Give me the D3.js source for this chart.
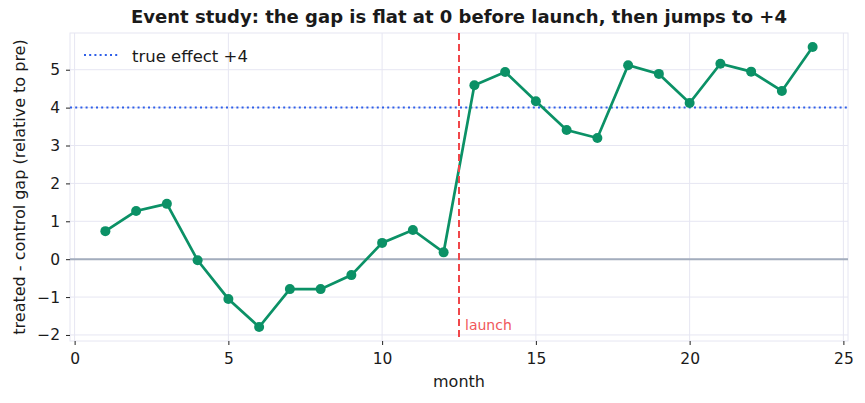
<html>
<head>
<meta charset="utf-8">
<script src="https://cdn.jsdelivr.net/npm/d3@7"></script>
<style>
  body { margin: 0; background: #fff; }
  svg text { font-family: "DejaVu Sans", sans-serif; fill: #1a1a1a; }
  .title { font-size: 18px; font-weight: bold; }
</style>
</head>
<body>
<script>
// data
var months = [1, 2, 3, 4, 5, 6, 7, 8, 9, 10, 11, 12, 13, 14, 15, 16, 17, 18, 19, 20, 21, 22, 23, 24];
var gap = [0.74, 1.27, 1.46, -0.03, -1.05, -1.79, -0.79, -0.79, -0.42, 0.43, 0.77, 0.18,
           4.59, 4.94, 4.17, 3.41, 3.20, 5.12, 4.89, 4.12, 5.16, 4.95, 4.44, 5.60];
var xTicks = [0, 5, 10, 15, 20, 25];
var yTicks = [-2, -1, 0, 1, 2, 3, 4, 5];
var launchMonth = 12.5;
var trueEffect = 4;

var W = 865, H = 403;
var m = {top: 33, right: 17, bottom: 62, left: 70};
var iw = W - m.left - m.right, ih = H - m.top - m.bottom;

var svg = d3.select("body").append("svg").attr("width", W).attr("height", H);
var g = svg.append("g").attr("transform", "translate(" + m.left + "," + m.top + ")");

// matplotlib-like 5% margins
var xr = d3.extent(months), yr = d3.extent(gap);
var xp = (xr[1] - xr[0]) * 0.05, yp = (yr[1] - yr[0]) * 0.05;
var x = d3.scaleLinear().domain([xr[0] - xp, xr[1] + xp]).range([0, iw]);
var y = d3.scaleLinear().domain([yr[0] - yp, yr[1] + yp]).range([ih, 0]);

/* grid */
g.selectAll(".gx").data(xTicks).enter().append("line")
  .attr("x1", d => x(d)).attr("x2", d => x(d)).attr("y1", 0).attr("y2", ih)
  .attr("stroke", "#e6e6f2").attr("stroke-width", 1);
g.selectAll(".gy").data(yTicks).enter().append("line")
  .attr("x1", 0).attr("x2", iw).attr("y1", d => y(d)).attr("y2", d => y(d))
  .attr("stroke", "#e6e6f2").attr("stroke-width", 1);

/* light frame */
g.append("rect").attr("width", iw).attr("height", ih)
  .attr("fill", "none").attr("stroke", "#e6e6f2").attr("stroke-width", 1);

/* axes */
var xa = g.append("g").attr("transform", "translate(0," + ih + ")")
  .call(d3.axisBottom(x).tickValues(xTicks).tickSize(4).tickPadding(8));
var ya = g.append("g")
  .call(d3.axisLeft(y).tickValues(yTicks).tickSize(4).tickPadding(6)
    .tickFormat(d => d < 0 ? "\u2212" + Math.abs(d) : d));
[xa, ya].forEach(function (a) {
  a.attr("font-size", 15.5).attr("font-family", "DejaVu Sans");
  a.select(".domain").remove();
  a.selectAll(".tick line").attr("stroke", "#222");
  a.selectAll(".tick text").attr("fill", "#1a1a1a");
});

/* zero line */
g.append("line").attr("x1", 0).attr("x2", iw).attr("y1", y(0)).attr("y2", y(0))
  .attr("stroke", "#a3adbd").attr("stroke-width", 2);

/* true effect line */
g.append("line").attr("x1", 0).attr("x2", iw).attr("y1", y(trueEffect)).attr("y2", y(trueEffect))
  .attr("stroke", "#2f5fe8").attr("stroke-width", 2).attr("stroke-dasharray", "2,3.2");

/* series */
var pts = months.map((d, i) => [d, gap[i]]);
g.append("path").datum(pts)
  .attr("d", d3.line().x(d => x(d[0])).y(d => y(d[1])))
  .attr("fill", "none").attr("stroke", "#0b9166").attr("stroke-width", 2.7);
g.selectAll(".pt").data(pts).enter().append("circle")
  .attr("cx", d => x(d[0])).attr("cy", d => y(d[1])).attr("r", 5)
  .attr("fill", "#0b9166");

/* launch line */
g.append("line").attr("x1", x(launchMonth)).attr("x2", x(launchMonth)).attr("y1", 0).attr("y2", ih)
  .attr("stroke", "#f0474a").attr("stroke-width", 2).attr("stroke-dasharray", "7,4");
g.append("text").attr("x", x(launchMonth) + 6).attr("y", y(-2) - 5)
  .attr("font-size", "14px").style("fill", "#f0575a").text("launch");

/* legend */
g.append("line").attr("x1", 14).attr("x2", 48).attr("y1", 22).attr("y2", 22)
  .attr("stroke", "#2f5fe8").attr("stroke-width", 2).attr("stroke-dasharray", "2,3.2");
g.append("text").attr("x", 62).attr("y", 29).attr("font-size", "16.5px").text("true effect +4");

/* labels */
svg.append("text").attr("class", "title").attr("x", m.left + iw / 2).attr("y", 23)
  .attr("text-anchor", "middle").text("Event study: the gap is flat at 0 before launch, then jumps to +4");
svg.append("text").attr("x", m.left + iw / 2).attr("y", 387).attr("text-anchor", "middle")
  .attr("font-size", "16px").text("month");
svg.append("text").attr("transform", "translate(25," + (m.top + ih / 2) + ") rotate(-90)")
  .attr("text-anchor", "middle").attr("font-size", "16px")
  .text("treated - control gap (relative to pre)");
</script>
</body>
</html>
